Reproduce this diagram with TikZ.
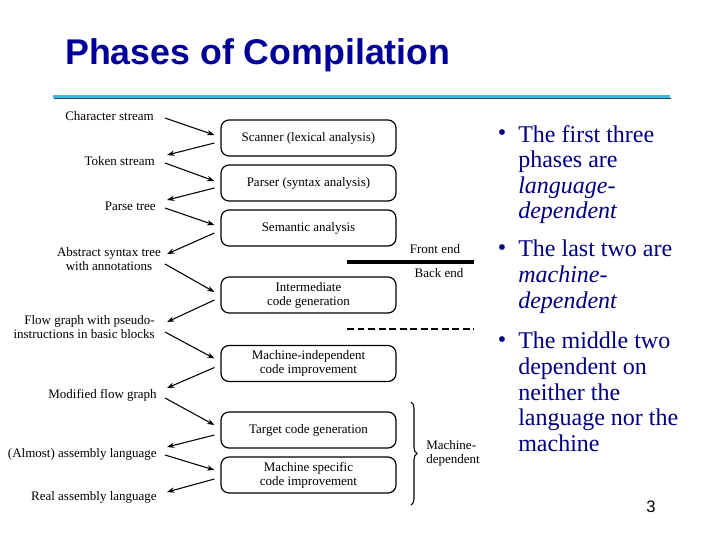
\documentclass[tikz,border=0pt]{standalone}
\usepackage{fontspec}
\setmainfont{Liberation Serif}
\newfontfamily\arialf{Liberation Sans}
\usetikzlibrary{arrows.meta,calc,decorations.pathreplacing}
\definecolor{titleblue}{RGB}{0,0,153}
\definecolor{bulletblue}{RGB}{0,0,128}
\definecolor{rulecyan}{RGB}{60,185,225}
\definecolor{ruleshadow}{RGB}{40,70,90}
\begin{document}
\begin{tikzpicture}[x=0.75pt,y=-0.75pt,
  phase/.style={draw,line width=0.9pt,rounded corners=6pt,minimum width=131.25pt,minimum height=27pt,align=center,inner sep=1pt,font=\fontsize{9.75}{10.5}\selectfont},
  lbl/.style={inner sep=0pt,font=\fontsize{9.75}{10.5}\selectfont},
  arr/.style={line width=0.8pt,-{Stealth[length=5.5pt,width=4pt]}},
  btxt/.style={anchor=north west,align=left,inner sep=0pt,text=bulletblue,font=\fontsize{18}{19.2}\selectfont},
  bdot/.style={inner sep=0pt,text=bulletblue,font=\fontsize{18}{19.2}\selectfont}]
\useasboundingbox (0,0) rectangle (720,540);
% title and rule
\node[anchor=base west,inner sep=0pt,font=\arialf\bfseries\fontsize{26.8}{30}\selectfont,text=titleblue] (title) at (65,64) {Phases of Compilation};
\coordinate (r1) at (53,96.5);
\coordinate (r2) at (670,96.5);
\draw[ruleshadow,line width=1pt] ($(r1)+(1,2)$) -- ($(r2)+(1,2)$);
\draw[rulecyan,line width=2.8pt] (r1) -- (r2);
% phase boxes
\node[phase] (b1) at (308.5,138) {Scanner (lexical analysis)};
\node[phase] (b2) at (308.5,183) {Parser (syntax analysis)};
\node[phase] (b3) at (308.5,228) {Semantic analysis};
\node[phase] (b4) at (308.5,295) {Intermediate\\code generation};
\node[phase] (b5) at (308.5,363.5) {Machine-independent\\code improvement};
\node[phase] (b6) at (308.5,430) {Target code generation};
\node[phase] (b7) at (308.5,475) {Machine specific\\code improvement};
% labels
\node[lbl,anchor=east] (l0) at (154,116) {Character stream};
\node[lbl,anchor=east] (l1) at (155,161) {Token stream};
\node[lbl,anchor=east] (l2) at (156,206) {Parse tree};
\node[lbl,align=center] (l3) at (109,259.5) {Abstract syntax tree\\with annotations};
\node[lbl,anchor=east,align=right] (l4) at (155,327) {Flow graph with pseudo-\\instructions in basic blocks};
\node[lbl,anchor=east] (l5) at (157,395) {Modified flow graph};
\node[lbl,anchor=east] (l6) at (157,454) {(Almost) assembly language};
\node[lbl,anchor=east] (l7) at (157,497) {Real assembly language};
% arrow end points near labels
\coordinate (t0) at (165,118);
\coordinate (t1) at (165,163);
\coordinate (t2) at (165,208);
\coordinate (t3) at (165,264);
\coordinate (t4) at (165,332);
\coordinate (t5) at (165,398);
\coordinate (t6) at (165,455);
\coordinate (h1) at (167,155);
\coordinate (h2) at (167,200);
\coordinate (h3) at (167,254);
\coordinate (h4) at (167,322);
\coordinate (h5) at (167,388);
\coordinate (h6) at (167,447);
\coordinate (h7) at (167,492);
% arrows
\draw[arr] (t0) -- ($(b1.west)+(-6,-3)$);
\draw[arr] ($(b1.west)+(-6,5)$) -- (h1);
\draw[arr] (t1) -- ($(b2.west)+(-6,-2)$);
\draw[arr] ($(b2.west)+(-6,5)$) -- (h2);
\draw[arr] (t2) -- ($(b3.west)+(-6,-3)$);
\draw[arr] ($(b3.west)+(-6,5)$) -- (h3);
\draw[arr] (t3) -- ($(b4.west)+(-6,-3)$);
\draw[arr] ($(b4.west)+(-6,5)$) -- (h4);
\draw[arr] (t4) -- ($(b5.west)+(-6,-5)$);
\draw[arr] ($(b5.west)+(-6,4)$) -- (h5);
\draw[arr] (t5) -- ($(b6.west)+(-6,-5)$);
\draw[arr] ($(b6.west)+(-6,5)$) -- (h6);
\draw[arr] (t6) -- ($(b7.west)+(-6,-5)$);
\draw[arr] ($(b7.west)+(-6,4)$) -- (h7);
% front/back end divider
\coordinate (f1) at (347,262);
\coordinate (f2) at (474,262);
\draw[line width=2.8pt] (f1) -- (f2);
\node[lbl] (fe) at (435,249) {Front end};
\node[lbl] (be) at (439,273) {Back end};
\coordinate (d1) at (347,329);
\coordinate (d2) at (474,329);
\draw[line width=1.1pt,dash pattern=on 5.2pt off 2.7pt] (d1) -- (d2);
% brace
\coordinate (br1) at (411,402);
\coordinate (br2) at (411,505);
\draw[line width=0.8pt,decorate,decoration={brace,amplitude=4.5pt}] (br1) -- (br2);
\node[lbl,anchor=west,align=left] (md) at (426,453) {Machine-\\dependent};
% bullets
\node[bdot] (d1b) at (502,135) {\textbullet};
\node[btxt] (p1) at (518,125) {The first three\\phases are\\\textit{language-}\\\textit{dependent}};
\node[bdot] (d2b) at (502,250) {\textbullet};
\node[btxt] (p2) at (518,240) {The last two are\\\textit{machine-}\\\textit{dependent}};
\node[bdot] (d3b) at (502,342) {\textbullet};
\node[btxt] (p3) at (518,332) {The middle two\\dependent on\\neither the\\language nor the\\machine};
% page number
\node[inner sep=0pt,font=\arialf\fontsize{12.5}{14}\selectfont] (pg) at (651,507) {3};
\end{tikzpicture}
\end{document}
